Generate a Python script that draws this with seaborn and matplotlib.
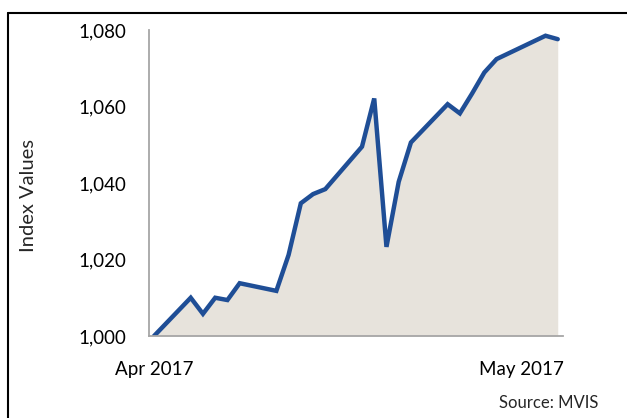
import matplotlib
matplotlib.use("Agg")
import matplotlib.pyplot as plt
from matplotlib.ticker import FuncFormatter
from matplotlib.lines import Line2D
import pandas as pd
import seaborn as sns

sns.set_style("white")
plt.rcParams['font.family'] = ['Lato', 'DejaVu Sans']

# MVIS index values, trading days from end of March to early May 2017
dates = ["2017-03-31", "2017-04-03", "2017-04-04", "2017-04-05", "2017-04-06",
         "2017-04-07", "2017-04-10", "2017-04-11", "2017-04-12", "2017-04-13",
         "2017-04-14", "2017-04-17", "2017-04-18", "2017-04-19", "2017-04-20",
         "2017-04-21", "2017-04-24", "2017-04-25", "2017-04-26", "2017-04-27",
         "2017-04-28", "2017-05-02", "2017-05-03"]
values = [1000.0, 1010.0, 1005.8, 1010.0, 1009.4,
          1013.8, 1011.8, 1021.2, 1034.7, 1037.1,
          1038.4, 1049.5, 1062.1, 1023.3, 1040.3,
          1050.6, 1060.6, 1058.2, 1063.4, 1068.9,
          1072.4, 1078.5, 1077.6]
tick_labels = ["Apr 2017", "May 2017"]
yticks = [1000, 1020, 1040, 1060, 1080]

df = pd.DataFrame({"date": pd.to_datetime(dates), "value": values})

fig = plt.figure(figsize=(6.27, 4.18), dpi=100)
ax = fig.add_axes([149/627, 1 - 336/418, (563-149)/627, (336-30)/418])

ax.fill_between(df["date"], 1000, df["value"], color="#e7e3dc", lw=0)
sns.lineplot(data=df, x="date", y="value", ax=ax, color="#1f4e96", lw=3.2,
             solid_joinstyle="miter")

start = pd.Timestamp("2017-03-31")
ax.set_xlim(start - pd.Timedelta(days=0.41), start + pd.Timedelta(days=33.43))
ax.set_ylim(1000, 1080)
ax.set_yticks(yticks)
ax.yaxis.set_major_formatter(FuncFormatter(lambda v, p: f"{v:,.0f}"))
ax.set_xticks([start, start + pd.Timedelta(days=30)])
ax.set_xticklabels(tick_labels)
ax.tick_params(axis="both", length=0, labelsize=13.5, colors="black")
ax.tick_params(axis="y", pad=16)
ax.tick_params(axis="x", pad=18)

for s in ["top", "right"]:
    ax.spines[s].set_visible(False)
for s in ["left", "bottom"]:
    ax.spines[s].set_color("#a6a6a6")
    ax.spines[s].set_linewidth(1.3)

ax.set_xlabel("")
ax.set_ylabel("")
fig.text(28/627, 1 - 196/418, "Index Values", rotation=90, fontsize=14.5,
         ha="center", va="center")
fig.text(598/627, 1 - 403/418, "Source: MVIS", fontsize=12, ha="right", va="center")

# outer frame (left and top edges only visible)
fig.add_artist(Line2D([8/627, 8/627], [0, 1 - 13/418], color="black", lw=1.5))
fig.add_artist(Line2D([8/627, 1], [1 - 13/418, 1 - 13/418], color="black", lw=1.5))

fig.savefig("out.png", dpi=100)
